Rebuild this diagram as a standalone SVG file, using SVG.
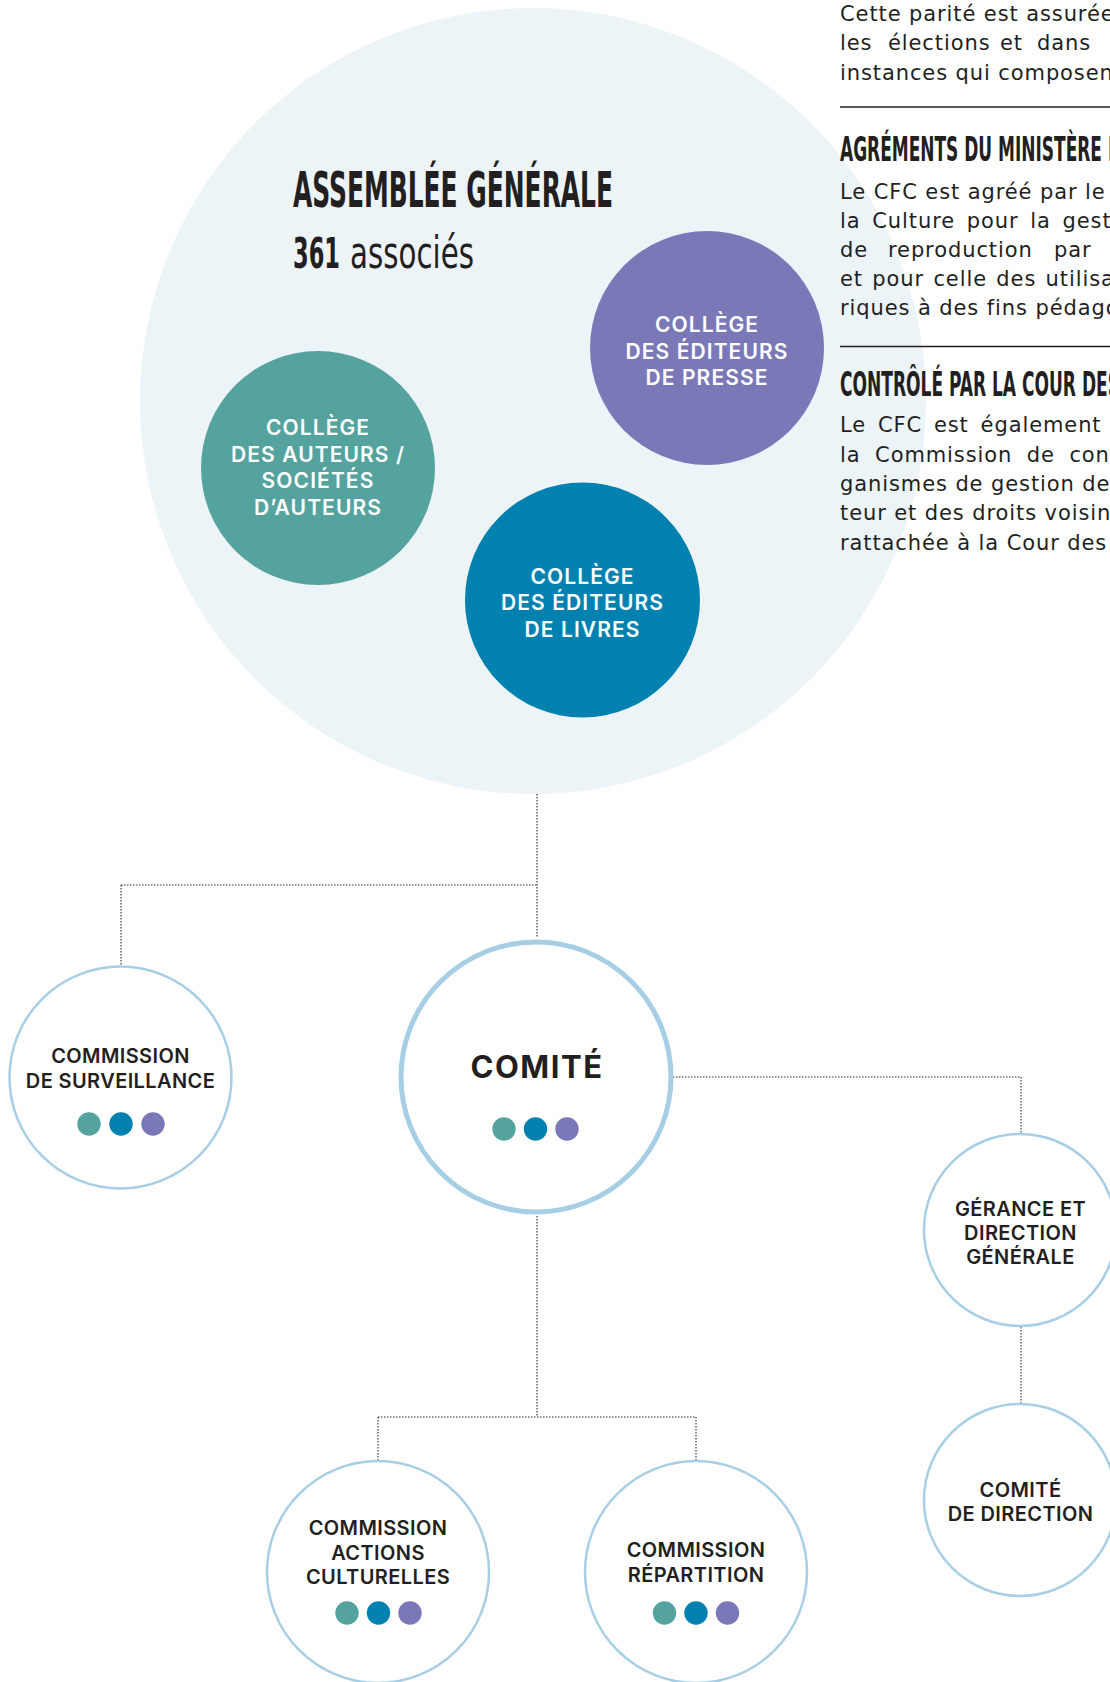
<svg xmlns="http://www.w3.org/2000/svg" width="1110" height="1682" viewBox="0 0 1110 1682">
<style>
.cond{font-family:"DejaVu Sans Condensed","DejaVu Sans",sans-serif;font-stretch:condensed;fill:#231f20}
.body{font-family:"DejaVu Sans",sans-serif;font-size:21px;letter-spacing:0.9px;fill:#231f20}
.col{font-family:Inter,"DejaVu Sans",sans-serif;font-size:21px;font-weight:600;fill:#ffffff;text-anchor:middle;letter-spacing:1.1px}
.lbl{font-family:Inter,"DejaVu Sans",sans-serif;font-size:20px;font-weight:600;fill:#231f20;text-anchor:middle;letter-spacing:0.4px}
.big{font-size:31px;font-weight:700;letter-spacing:1.5px}
.ring{fill:#ffffff;stroke:#a6cfe5;stroke-width:2.5}
.ring5{stroke-width:5}
.conn{fill:none;stroke:#2a2a2a;stroke-width:1.1;stroke-dasharray:1.5 1.5}
.rule{stroke:#231f20;stroke-width:1.5}
.t{fill:#55a39e}.b{fill:#0081b0}.p{fill:#7b78b8}
</style>
<rect width="1110" height="1682" fill="#ffffff"/>

<g id="assemblee">
<circle cx="533" cy="401" r="393" fill="#ecf4f8"/>
<text class="cond" x="293" y="207" font-size="49" font-weight="bold" textLength="320" lengthAdjust="spacingAndGlyphs">ASSEMBLÉE GÉNÉRALE</text>
<text class="cond" y="268" font-size="42"><tspan x="293" font-weight="bold" textLength="47" lengthAdjust="spacingAndGlyphs">361</tspan><tspan x="350" font-size="44" textLength="124" lengthAdjust="spacingAndGlyphs">associés</tspan></text>
</g>

<g id="college-auteurs">
<circle cx="318" cy="468" r="117" class="t"/>
<text class="col" x="318" y="435">COLLÈGE</text>
<text class="col" x="318" y="461.5">DES AUTEURS /</text>
<text class="col" x="318" y="488">SOCIÉTÉS</text>
<text class="col" x="318" y="514.5">D’AUTEURS</text>
</g>

<g id="college-presse">
<circle cx="707" cy="348" r="117" class="p"/>
<text class="col" x="707" y="332">COLLÈGE</text>
<text class="col" x="707" y="358.5">DES ÉDITEURS</text>
<text class="col" x="707" y="385">DE PRESSE</text>
</g>

<g id="college-livres">
<circle cx="582.5" cy="600" r="117.5" class="b"/>
<text class="col" x="582.5" y="583.5">COLLÈGE</text>
<text class="col" x="582.5" y="610">DES ÉDITEURS</text>
<text class="col" x="582.5" y="636.5">DE LIVRES</text>
</g>

<g id="texte-droite">
<text class="body" x="840" y="21">Cette parité est assurée</text>
<text class="body" y="50"><tspan x="840">les</tspan><tspan x="888">élections</tspan><tspan x="1000">et</tspan><tspan x="1037">dans</tspan></text>
<text class="body" x="840" y="80">instances qui composen</text>
<line class="rule" x1="840" y1="107" x2="1110" y2="107"/>
<text class="cond" x="840" y="161" font-size="34" font-weight="bold" textLength="282" lengthAdjust="spacingAndGlyphs">AGRÉMENTS DU MINISTÈRE D</text>
<text class="body" x="840" y="198.5">Le CFC est agréé par le</text>
<text class="body" x="840" y="227.5" style="word-spacing:4.2px">la Culture pour la gest</text>
<text class="body" y="257"><tspan x="840">de</tspan><tspan x="888">reproduction</tspan><tspan x="1054">par</tspan></text>
<text class="body" x="840" y="286" style="word-spacing:1.8px">et pour celle des utilisa</text>
<text class="body" x="840" y="315">riques à des fins pédago</text>
<line class="rule" x1="840" y1="346.5" x2="1110" y2="346.5"/>
<text class="cond" x="840" y="396" font-size="34" font-weight="bold" textLength="280" lengthAdjust="spacingAndGlyphs">CONTRÔLÉ PAR LA COUR DES</text>
<text class="body" x="840" y="432" style="word-spacing:4.3px">Le CFC est également</text>
<text class="body" x="840" y="461.5" style="word-spacing:7px">la Commission de con</text>
<text class="body" x="840" y="491">ganismes de gestion de</text>
<text class="body" x="840" y="520">teur et des droits voisin</text>
<text class="body" x="840" y="549.5">rattachée à la Cour des</text>
</g>

<g id="connecteurs">
<path class="conn" d="M537 794 V938"/>
<path class="conn" d="M121 885 H537"/>
<path class="conn" d="M121 885 V965"/>
<path class="conn" d="M673 1077 H1021 V1133"/>
<path class="conn" d="M1021 1327 V1403"/>
<path class="conn" d="M537 1216 V1417"/>
<path class="conn" d="M378 1417 H696"/>
<path class="conn" d="M378 1417 V1460"/>
<path class="conn" d="M696 1417 V1460"/>
</g>

<g id="commission-surveillance">
<circle class="ring" cx="120.5" cy="1077.5" r="111"/>
<text class="lbl" x="120.5" y="1063">COMMISSION</text>
<text class="lbl" x="120.5" y="1088">DE SURVEILLANCE</text>
<circle class="t" cx="89" cy="1124" r="11.7"/>
<circle class="b" cx="121" cy="1124" r="11.7"/>
<circle class="p" cx="153" cy="1124" r="11.7"/>
</g>

<g id="comite">
<circle class="ring ring5" cx="536" cy="1077" r="135"/>
<text class="lbl big" x="537" y="1078">COMITÉ</text>
<circle class="t" cx="504" cy="1129" r="11.7"/>
<circle class="b" cx="535.5" cy="1129" r="11.7"/>
<circle class="p" cx="567" cy="1129" r="11.7"/>
</g>

<g id="gerance">
<circle class="ring" cx="1020" cy="1230" r="96"/>
<text class="lbl" x="1020.5" y="1216">GÉRANCE ET</text>
<text class="lbl" x="1020.5" y="1240">DIRECTION</text>
<text class="lbl" x="1020.5" y="1264">GÉNÉRALE</text>
</g>

<g id="comite-direction">
<circle class="ring" cx="1020" cy="1500" r="96"/>
<text class="lbl" x="1020.5" y="1496.5">COMITÉ</text>
<text class="lbl" x="1020.5" y="1521">DE DIRECTION</text>
</g>

<g id="commission-actions">
<circle class="ring" cx="378" cy="1572" r="111"/>
<text class="lbl" x="378" y="1535">COMMISSION</text>
<text class="lbl" x="378" y="1559.5">ACTIONS</text>
<text class="lbl" x="378" y="1584">CULTURELLES</text>
<circle class="t" cx="347" cy="1613" r="11.7"/>
<circle class="b" cx="378.5" cy="1613" r="11.7"/>
<circle class="p" cx="410" cy="1613" r="11.7"/>
</g>

<g id="commission-repartition">
<circle class="ring" cx="696" cy="1572" r="111"/>
<text class="lbl" x="696" y="1557">COMMISSION</text>
<text class="lbl" x="696" y="1582">RÉPARTITION</text>
<circle class="t" cx="664.5" cy="1613" r="11.7"/>
<circle class="b" cx="696" cy="1613" r="11.7"/>
<circle class="p" cx="727.5" cy="1613" r="11.7"/>
</g>
</svg>
